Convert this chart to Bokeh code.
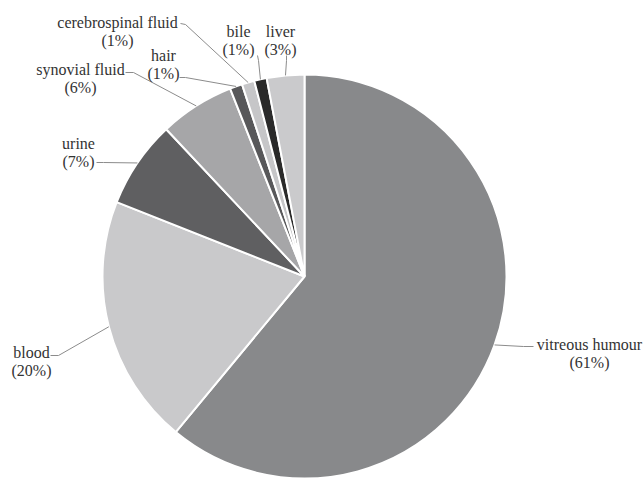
import math
from bokeh.plotting import figure
from bokeh.models import Range1d, ColumnDataSource
from bokeh.core.properties import value
from bokeh.embed import file_html
from bokeh.resources import INLINE

# Sample types and their share of the total (%), clockwise from 12 o'clock
samples = ["vitreous humour", "blood", "urine", "synovial fluid", "hair",
           "cerebrospinal fluid", "bile", "liver"]
shares = [61, 20, 7, 6, 1, 1, 1, 3]
colors = ["#88898b", "#c9c9cb", "#5f5f61", "#a6a6a8", "#58585a",
          "#c6c6c8", "#2a2a2a", "#cacacc"]

W, H = 644, 479
CX, CY, R = 304, H - 276, 202

# label centres (page coordinates, y downwards) for the name line
label_x = [589, 31, 78, 80, 163, 117, 238, 280]
label_y = [344, 352, 143, 69, 55, 22, 31, 31]
# where each leader line leaves its label: (start point, elbow point)
lead_start = [(533, 346), (50, 355), (96, 162), (125, 72), (179, 77), (180, 23), (257, 55), (286, 55)]
lead_elbow = [(523, 346), (58, 355), (103, 162), (133, 72), (185, 77), (185, 24), (258, 60), (286, 60)]

total = float(sum(shares))
starts, ends, mids = [], [], []
acc = 0.0
for v in shares:
    a0 = acc / total
    acc += v
    a1 = acc / total
    # clockwise from the top
    starts.append(math.pi / 2 - a1 * 2 * math.pi)
    ends.append(math.pi / 2 - a0 * 2 * math.pi)
    mids.append(math.pi / 2 - (a0 + a1) / 2 * 2 * math.pi)

p = figure(width=W, height=H, output_backend="svg", toolbar_location=None,
           x_range=Range1d(0, W), y_range=Range1d(0, H),
           x_axis_type=None, y_axis_type=None, min_border=0)
p.outline_line_color = None
p.grid.visible = False
p.background_fill_color = "white"
p.border_fill_color = "white"

src = ColumnDataSource(dict(start=starts, end=ends, color=colors))
p.wedge(x=CX, y=CY, radius=R, start_angle="start", end_angle="end",
        fill_color="color", line_color="white", line_width=2, source=src)

# leader lines from labels to slice edges
xs, ys = [], []
for (sx, sy), (ex, ey), m in zip(lead_start, lead_elbow, mids):
    px = CX + R * math.cos(m)
    py = CY + R * math.sin(m)
    xs.append([sx, ex, px])
    ys.append([H - sy, H - ey, py])
p.multi_line(xs=xs, ys=ys, line_color="#8c8c8c", line_width=1)

font = value("Times New Roman")
names_src = ColumnDataSource(dict(x=label_x, y=[H - y for y in label_y], t=samples))
pct_src = ColumnDataSource(dict(x=label_x, y=[H - y - 18 for y in label_y],
                                t=["(%d%%)" % v for v in shares]))
for s in (names_src, pct_src):
    p.text(x="x", y="y", text="t", source=s, text_font=font, text_font_size="16px",
           text_font_style="normal",
           text_color="#333333", text_align="center", text_baseline="middle")

open("out.html", "w").write(file_html(p, INLINE))
